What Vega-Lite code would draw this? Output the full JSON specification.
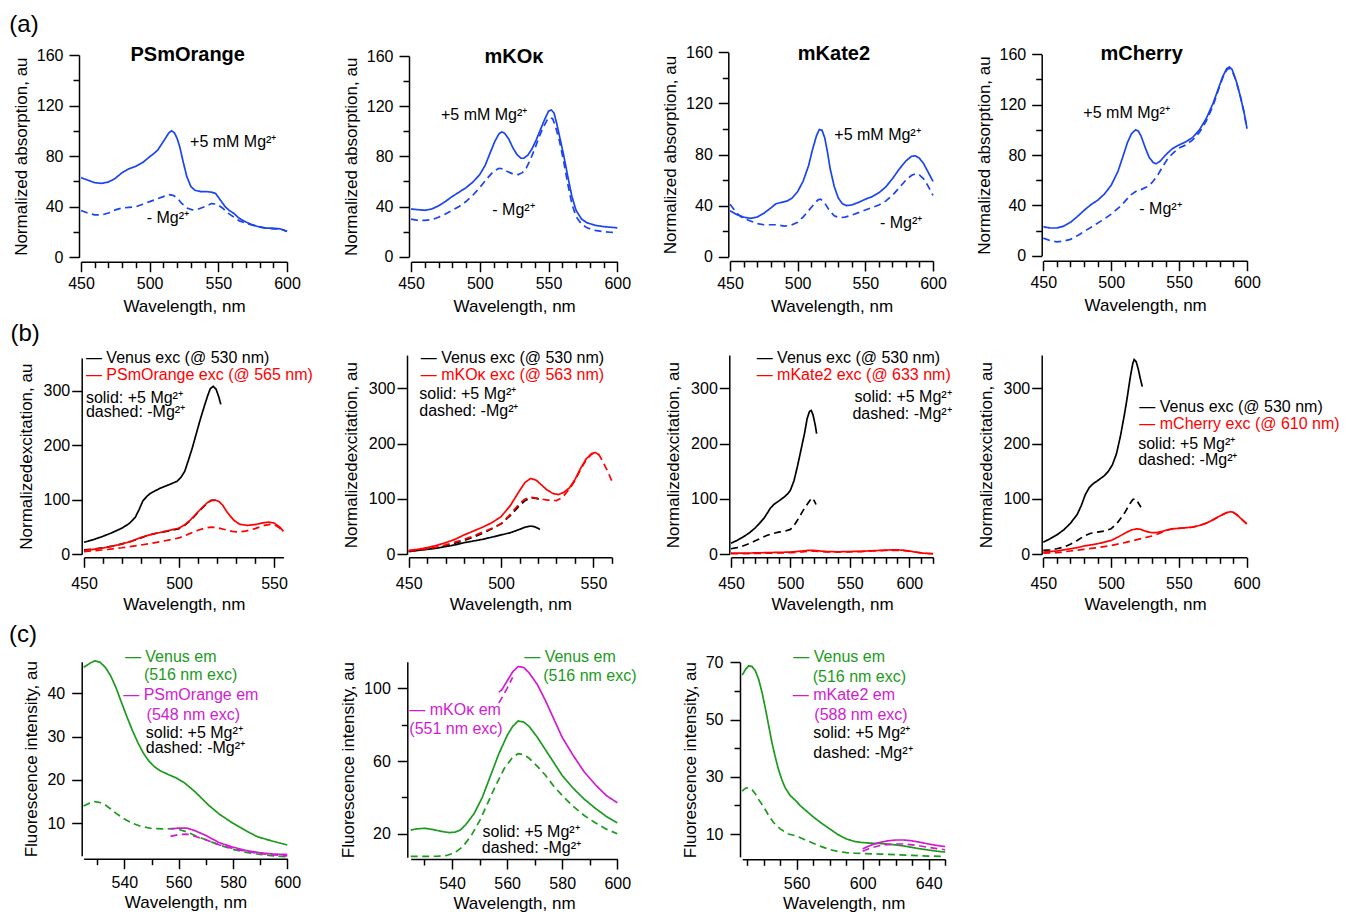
{
"$schema": "https://vega.github.io/schema/vega-lite/v6.json",
"padding": 0,
"spacing": 0,
"bounds": "flush",
"align": "all",
"columns": 4,
"config": {
 "view": {"stroke": null},
 "font": "Liberation Sans",
 "axis": {"grid": false, "domainColor": "#000", "tickColor": "#000", "labelColor": "#000", "titleColor": "#000", "labelFont": "Liberation Sans", "titleFont": "Liberation Sans", "labelFontSize": 16, "titleFontSize": 17, "titleFontWeight": "normal", "domainWidth": 1.5, "tickWidth": 1.5, "labelFlush": false, "labelOverlap": false}
},
"datasets": {
"notes": [
{"p":"A1","k":"t","s":"note","w":527.7,"v":160,"t":"PSmOrange"},
{"p":"A1","k":"g","s":"note","w":408.5,"v":184,"t":"(a)"},
{"p":"A1","k":"n","s":"note","w":529.4,"v":91.4,"t":"+5 mM Mg²⁺"},
{"p":"A1","k":"n","s":"note","w":497.8,"v":30.8,"t":"- Mg²⁺"},
{"p":"A2","k":"t","s":"note","w":524.9,"v":159.4,"t":"mKOκ"},
{"p":"A2","k":"n","s":"note","w":471.8,"v":113,"t":"+5 mM Mg²⁺"},
{"p":"A2","k":"n","s":"note","w":509.1,"v":37.2,"t":"- Mg²⁺"},
{"p":"A3","k":"t","s":"note","w":526.8,"v":158.4,"t":"mKate2"},
{"p":"A3","k":"n","s":"note","w":527.1,"v":95.3,"t":"+5 mM Mg²⁺"},
{"p":"A3","k":"n","s":"note","w":560.8,"v":26.6,"t":"- Mg²⁺"},
{"p":"A4","k":"t","s":"note","w":522.4,"v":160,"t":"mCherry"},
{"p":"A4","k":"n","s":"note","w":479.5,"v":113,"t":"+5 mM Mg²⁺"},
{"p":"A4","k":"n","s":"note","w":520.7,"v":36.8,"t":"- Mg²⁺"},
{"p":"B1","k":"g","s":"note","w":419,"v":404,"t":"(b)"},
{"p":"B1","k":"n","s":"Venus exc","w":451,"v":359.4,"t":"— Venus exc (@ 530 nm)"},
{"p":"B1","k":"n","s":"FP exc","w":451,"v":329,"t":"— PSmOrange exc (@ 565 nm)"},
{"p":"B1","k":"n","s":"note","w":451,"v":287,"t":"solid: +5 Mg²⁺"},
{"p":"B1","k":"n","s":"note","w":451,"v":260.5,"t":"dashed: -Mg²⁺"},
{"p":"B2","k":"n","s":"Venus exc","w":456.5,"v":354,"t":"— Venus exc (@ 530 nm)"},
{"p":"B2","k":"n","s":"FP exc","w":456.5,"v":324,"t":"— mKOκ exc (@ 563 nm)"},
{"p":"B2","k":"n","s":"note","w":455.7,"v":290,"t":"solid: +5 Mg²⁺"},
{"p":"B2","k":"n","s":"note","w":455.7,"v":259.5,"t":"dashed: -Mg²⁺"},
{"p":"B3","k":"n","s":"Venus exc","w":471.6,"v":354,"t":"— Venus exc (@ 530 nm)"},
{"p":"B3","k":"n","s":"FP exc","w":471.6,"v":324,"t":"— mKate2 exc (@ 633 nm)"},
{"p":"B3","k":"r","s":"note","w":635.6,"v":284,"t":"solid: +5 Mg²⁺"},
{"p":"B3","k":"r","s":"note","w":635.6,"v":253.6,"t":"dashed: -Mg²⁺"},
{"p":"B4","k":"n","s":"Venus exc","w":520.8,"v":265.7,"t":"— Venus exc (@ 530 nm)"},
{"p":"B4","k":"n","s":"FP exc","w":520.8,"v":235.5,"t":"— mCherry exc (@ 610 nm)"},
{"p":"B4","k":"n","s":"note","w":520,"v":199,"t":"solid: +5 Mg²⁺"},
{"p":"B4","k":"n","s":"note","w":520,"v":170,"t":"dashed: -Mg²⁺"},
{"p":"C1","k":"g","s":"note","w":502.7,"v":53.5,"t":"(c)"},
{"p":"C1","k":"n","s":"Venus em","w":540.2,"v":48.4,"t":"— Venus em"},
{"p":"C1","k":"n","s":"Venus em","w":547.2,"v":44.2,"t":"(516 nm exc)"},
{"p":"C1","k":"n","s":"FP em","w":539.6,"v":39.6,"t":"— PSmOrange em"},
{"p":"C1","k":"n","s":"FP em","w":548.2,"v":35,"t":"(548 nm exc)"},
{"p":"C1","k":"n","s":"note","w":547.9,"v":30.8,"t":"solid: +5 Mg²⁺"},
{"p":"C1","k":"n","s":"note","w":547.9,"v":27.3,"t":"dashed: -Mg²⁺"},
{"p":"C2","k":"n","s":"Venus em","w":566.2,"v":117.4,"t":"— Venus em"},
{"p":"C2","k":"n","s":"Venus em","w":573.1,"v":106.8,"t":"(516 nm exc)"},
{"p":"C2","k":"n","s":"FP em","w":524.5,"v":88,"t":"— mKOκ em"},
{"p":"C2","k":"n","s":"FP em","w":524.5,"v":77.4,"t":"(551 nm exc)"},
{"p":"C2","k":"n","s":"note","w":551.1,"v":21.1,"t":"solid: +5 Mg²⁺"},
{"p":"C2","k":"n","s":"note","w":550.8,"v":12,"t":"dashed: -Mg²⁺"},
{"p":"C3","k":"n","s":"Venus em","w":558,"v":72,"t":"— Venus em"},
{"p":"C3","k":"n","s":"Venus em","w":569.7,"v":65,"t":"(516 nm exc)"},
{"p":"C3","k":"n","s":"FP em","w":557.6,"v":58.6,"t":"— mKate2 em"},
{"p":"C3","k":"n","s":"FP em","w":570.7,"v":51.6,"t":"(588 nm exc)"},
{"p":"C3","k":"n","s":"note","w":570.1,"v":45.2,"t":"solid: +5 Mg²⁺"},
{"p":"C3","k":"n","s":"note","w":570.1,"v":38.2,"t":"dashed: -Mg²⁺"}
],
"A1": [
{"w":450,"v":63,"s":"abs","m":"+"},{"w":455,"v":61,"s":"abs","m":"+"},{"w":460,"v":59,"s":"abs","m":"+"},{"w":465,"v":58.5,"s":"abs","m":"+"},{"w":470,"v":59.5,"s":"abs","m":"+"},{"w":475,"v":62.5,"s":"abs","m":"+"},{"w":480,"v":67,"s":"abs","m":"+"},{"w":485,"v":70,"s":"abs","m":"+"},{"w":490,"v":72,"s":"abs","m":"+"},{"w":495,"v":75,"s":"abs","m":"+"},{"w":500,"v":79.5,"s":"abs","m":"+"},{"w":503,"v":82,"s":"abs","m":"+"},{"w":506,"v":85,"s":"abs","m":"+"},{"w":509,"v":90,"s":"abs","m":"+"},{"w":512,"v":95,"s":"abs","m":"+"},{"w":514,"v":98.5,"s":"abs","m":"+"},{"w":516,"v":100,"s":"abs","m":"+"},{"w":518,"v":98.5,"s":"abs","m":"+"},{"w":520,"v":94,"s":"abs","m":"+"},{"w":522,"v":87,"s":"abs","m":"+"},{"w":524.5,"v":75,"s":"abs","m":"+"},{"w":527,"v":64,"s":"abs","m":"+"},{"w":530,"v":56,"s":"abs","m":"+"},{"w":533,"v":53,"s":"abs","m":"+"},{"w":537,"v":52,"s":"abs","m":"+"},{"w":541,"v":52,"s":"abs","m":"+"},{"w":545,"v":51.5,"s":"abs","m":"+"},{"w":548,"v":50.5,"s":"abs","m":"+"},{"w":551,"v":46,"s":"abs","m":"+"},{"w":555,"v":40,"s":"abs","m":"+"},{"w":558,"v":37,"s":"abs","m":"+"},{"w":561,"v":35,"s":"abs","m":"+"},{"w":565,"v":31,"s":"abs","m":"+"},{"w":570,"v":28,"s":"abs","m":"+"},{"w":575,"v":25.5,"s":"abs","m":"+"},{"w":580,"v":24,"s":"abs","m":"+"},{"w":585,"v":23,"s":"abs","m":"+"},{"w":590,"v":23,"s":"abs","m":"+"},{"w":595,"v":22.5,"s":"abs","m":"+"},{"w":600,"v":20.5,"s":"abs","m":"+"},
{"w":450,"v":37,"s":"abs","m":"-"},{"w":455,"v":35,"s":"abs","m":"-"},{"w":460,"v":33.5,"s":"abs","m":"-"},{"w":465,"v":33.5,"s":"abs","m":"-"},{"w":470,"v":35,"s":"abs","m":"-"},{"w":475,"v":37.5,"s":"abs","m":"-"},{"w":480,"v":39,"s":"abs","m":"-"},{"w":485,"v":39.5,"s":"abs","m":"-"},{"w":490,"v":40,"s":"abs","m":"-"},{"w":495,"v":42,"s":"abs","m":"-"},{"w":500,"v":44,"s":"abs","m":"-"},{"w":505,"v":46,"s":"abs","m":"-"},{"w":510,"v":48,"s":"abs","m":"-"},{"w":514,"v":49.5,"s":"abs","m":"-"},{"w":517,"v":49,"s":"abs","m":"-"},{"w":520,"v":47,"s":"abs","m":"-"},{"w":523,"v":43,"s":"abs","m":"-"},{"w":527,"v":39,"s":"abs","m":"-"},{"w":531,"v":37.5,"s":"abs","m":"-"},{"w":535,"v":38,"s":"abs","m":"-"},{"w":540,"v":40,"s":"abs","m":"-"},{"w":545,"v":42.5,"s":"abs","m":"-"},{"w":549,"v":42,"s":"abs","m":"-"},{"w":553,"v":39,"s":"abs","m":"-"},{"w":557,"v":35,"s":"abs","m":"-"},{"w":561,"v":32,"s":"abs","m":"-"},{"w":565,"v":29,"s":"abs","m":"-"},{"w":570,"v":27,"s":"abs","m":"-"},{"w":575,"v":25.5,"s":"abs","m":"-"},{"w":580,"v":24,"s":"abs","m":"-"},{"w":585,"v":23,"s":"abs","m":"-"},{"w":590,"v":22.5,"s":"abs","m":"-"},{"w":595,"v":22.5,"s":"abs","m":"-"},{"w":600,"v":20.5,"s":"abs","m":"-"}
],
"A2": [
{"w":450,"v":38,"s":"abs","m":"+"},{"w":455,"v":37.5,"s":"abs","m":"+"},{"w":460,"v":37,"s":"abs","m":"+"},{"w":465,"v":38,"s":"abs","m":"+"},{"w":470,"v":40.5,"s":"abs","m":"+"},{"w":475,"v":44,"s":"abs","m":"+"},{"w":480,"v":48,"s":"abs","m":"+"},{"w":485,"v":51.5,"s":"abs","m":"+"},{"w":490,"v":55,"s":"abs","m":"+"},{"w":495,"v":59.5,"s":"abs","m":"+"},{"w":500,"v":65.5,"s":"abs","m":"+"},{"w":504,"v":73,"s":"abs","m":"+"},{"w":508,"v":84,"s":"abs","m":"+"},{"w":511,"v":92,"s":"abs","m":"+"},{"w":514,"v":98,"s":"abs","m":"+"},{"w":516,"v":99.5,"s":"abs","m":"+"},{"w":518,"v":98.5,"s":"abs","m":"+"},{"w":521,"v":94,"s":"abs","m":"+"},{"w":524,"v":87,"s":"abs","m":"+"},{"w":527,"v":81.5,"s":"abs","m":"+"},{"w":530,"v":78.5,"s":"abs","m":"+"},{"w":532,"v":78.5,"s":"abs","m":"+"},{"w":535,"v":81,"s":"abs","m":"+"},{"w":538,"v":86,"s":"abs","m":"+"},{"w":541,"v":93,"s":"abs","m":"+"},{"w":544,"v":101,"s":"abs","m":"+"},{"w":547,"v":109,"s":"abs","m":"+"},{"w":550,"v":116,"s":"abs","m":"+"},{"w":552,"v":117,"s":"abs","m":"+"},{"w":554,"v":114.5,"s":"abs","m":"+"},{"w":556,"v":106,"s":"abs","m":"+"},{"w":558,"v":96,"s":"abs","m":"+"},{"w":561,"v":81,"s":"abs","m":"+"},{"w":564,"v":64,"s":"abs","m":"+"},{"w":567,"v":48,"s":"abs","m":"+"},{"w":570,"v":37,"s":"abs","m":"+"},{"w":574,"v":30,"s":"abs","m":"+"},{"w":578,"v":27,"s":"abs","m":"+"},{"w":584,"v":25,"s":"abs","m":"+"},{"w":590,"v":24,"s":"abs","m":"+"},{"w":595,"v":23.5,"s":"abs","m":"+"},{"w":600,"v":23,"s":"abs","m":"+"},
{"w":450,"v":30,"s":"abs","m":"-"},{"w":455,"v":29,"s":"abs","m":"-"},{"w":460,"v":29,"s":"abs","m":"-"},{"w":465,"v":29.5,"s":"abs","m":"-"},{"w":470,"v":31.5,"s":"abs","m":"-"},{"w":475,"v":34,"s":"abs","m":"-"},{"w":480,"v":37,"s":"abs","m":"-"},{"w":485,"v":40,"s":"abs","m":"-"},{"w":490,"v":44,"s":"abs","m":"-"},{"w":495,"v":49,"s":"abs","m":"-"},{"w":500,"v":55,"s":"abs","m":"-"},{"w":505,"v":62,"s":"abs","m":"-"},{"w":510,"v":68,"s":"abs","m":"-"},{"w":514,"v":70.5,"s":"abs","m":"-"},{"w":517,"v":70,"s":"abs","m":"-"},{"w":520,"v":68,"s":"abs","m":"-"},{"w":524,"v":66,"s":"abs","m":"-"},{"w":528,"v":65.5,"s":"abs","m":"-"},{"w":531,"v":67,"s":"abs","m":"-"},{"w":534,"v":71,"s":"abs","m":"-"},{"w":537,"v":78,"s":"abs","m":"-"},{"w":540,"v":86,"s":"abs","m":"-"},{"w":543,"v":95,"s":"abs","m":"-"},{"w":546,"v":103,"s":"abs","m":"-"},{"w":549,"v":109,"s":"abs","m":"-"},{"w":551,"v":111,"s":"abs","m":"-"},{"w":553,"v":110,"s":"abs","m":"-"},{"w":555,"v":104,"s":"abs","m":"-"},{"w":558,"v":92,"s":"abs","m":"-"},{"w":561,"v":76,"s":"abs","m":"-"},{"w":564,"v":58,"s":"abs","m":"-"},{"w":567,"v":42,"s":"abs","m":"-"},{"w":570,"v":32,"s":"abs","m":"-"},{"w":574,"v":26,"s":"abs","m":"-"},{"w":578,"v":23,"s":"abs","m":"-"},{"w":584,"v":21,"s":"abs","m":"-"},{"w":590,"v":20,"s":"abs","m":"-"},{"w":595,"v":19.5,"s":"abs","m":"-"},{"w":600,"v":19,"s":"abs","m":"-"}
],
"A3": [
{"w":450,"v":36,"s":"abs","m":"+"},{"w":455,"v":33,"s":"abs","m":"+"},{"w":460,"v":31,"s":"abs","m":"+"},{"w":465,"v":30,"s":"abs","m":"+"},{"w":470,"v":31,"s":"abs","m":"+"},{"w":475,"v":34,"s":"abs","m":"+"},{"w":480,"v":38,"s":"abs","m":"+"},{"w":484,"v":41.5,"s":"abs","m":"+"},{"w":488,"v":42.5,"s":"abs","m":"+"},{"w":492,"v":43.5,"s":"abs","m":"+"},{"w":496,"v":46,"s":"abs","m":"+"},{"w":500,"v":51,"s":"abs","m":"+"},{"w":504,"v":59,"s":"abs","m":"+"},{"w":508,"v":71,"s":"abs","m":"+"},{"w":511,"v":84,"s":"abs","m":"+"},{"w":514,"v":95,"s":"abs","m":"+"},{"w":516,"v":99.5,"s":"abs","m":"+"},{"w":518,"v":99,"s":"abs","m":"+"},{"w":520,"v":93,"s":"abs","m":"+"},{"w":522,"v":82,"s":"abs","m":"+"},{"w":524,"v":69,"s":"abs","m":"+"},{"w":527,"v":55,"s":"abs","m":"+"},{"w":530,"v":46,"s":"abs","m":"+"},{"w":533,"v":41.5,"s":"abs","m":"+"},{"w":536,"v":40,"s":"abs","m":"+"},{"w":540,"v":40.5,"s":"abs","m":"+"},{"w":545,"v":42.5,"s":"abs","m":"+"},{"w":550,"v":45,"s":"abs","m":"+"},{"w":555,"v":47,"s":"abs","m":"+"},{"w":560,"v":50,"s":"abs","m":"+"},{"w":565,"v":54.5,"s":"abs","m":"+"},{"w":570,"v":61,"s":"abs","m":"+"},{"w":575,"v":68.5,"s":"abs","m":"+"},{"w":580,"v":75,"s":"abs","m":"+"},{"w":584,"v":78.5,"s":"abs","m":"+"},{"w":587,"v":79,"s":"abs","m":"+"},{"w":590,"v":77,"s":"abs","m":"+"},{"w":593,"v":73,"s":"abs","m":"+"},{"w":596,"v":67,"s":"abs","m":"+"},{"w":600,"v":59,"s":"abs","m":"+"},
{"w":450,"v":41,"s":"abs","m":"-"},{"w":453,"v":37,"s":"abs","m":"-"},{"w":456,"v":33,"s":"abs","m":"-"},{"w":460,"v":30,"s":"abs","m":"-"},{"w":465,"v":28,"s":"abs","m":"-"},{"w":470,"v":26,"s":"abs","m":"-"},{"w":475,"v":25,"s":"abs","m":"-"},{"w":480,"v":25,"s":"abs","m":"-"},{"w":485,"v":25,"s":"abs","m":"-"},{"w":490,"v":24,"s":"abs","m":"-"},{"w":495,"v":24.5,"s":"abs","m":"-"},{"w":500,"v":27,"s":"abs","m":"-"},{"w":504,"v":31,"s":"abs","m":"-"},{"w":508,"v":36,"s":"abs","m":"-"},{"w":512,"v":41,"s":"abs","m":"-"},{"w":515,"v":44.5,"s":"abs","m":"-"},{"w":517,"v":45,"s":"abs","m":"-"},{"w":520,"v":42,"s":"abs","m":"-"},{"w":523,"v":37,"s":"abs","m":"-"},{"w":527,"v":32,"s":"abs","m":"-"},{"w":531,"v":30.5,"s":"abs","m":"-"},{"w":535,"v":31,"s":"abs","m":"-"},{"w":540,"v":32.5,"s":"abs","m":"-"},{"w":545,"v":34.5,"s":"abs","m":"-"},{"w":550,"v":36.5,"s":"abs","m":"-"},{"w":555,"v":38.5,"s":"abs","m":"-"},{"w":560,"v":40.5,"s":"abs","m":"-"},{"w":565,"v":43.5,"s":"abs","m":"-"},{"w":570,"v":48,"s":"abs","m":"-"},{"w":575,"v":54,"s":"abs","m":"-"},{"w":580,"v":60,"s":"abs","m":"-"},{"w":584,"v":63.5,"s":"abs","m":"-"},{"w":587,"v":65,"s":"abs","m":"-"},{"w":590,"v":64,"s":"abs","m":"-"},{"w":593,"v":61,"s":"abs","m":"-"},{"w":596,"v":56,"s":"abs","m":"-"},{"w":600,"v":48,"s":"abs","m":"-"}
],
"A4": [
{"w":450,"v":23,"s":"abs","m":"+"},{"w":455,"v":22,"s":"abs","m":"+"},{"w":460,"v":22,"s":"abs","m":"+"},{"w":465,"v":23.5,"s":"abs","m":"+"},{"w":470,"v":26.5,"s":"abs","m":"+"},{"w":475,"v":31,"s":"abs","m":"+"},{"w":480,"v":36,"s":"abs","m":"+"},{"w":485,"v":40.5,"s":"abs","m":"+"},{"w":490,"v":44,"s":"abs","m":"+"},{"w":495,"v":49,"s":"abs","m":"+"},{"w":500,"v":56,"s":"abs","m":"+"},{"w":505,"v":67,"s":"abs","m":"+"},{"w":509,"v":80,"s":"abs","m":"+"},{"w":512,"v":90,"s":"abs","m":"+"},{"w":515,"v":97,"s":"abs","m":"+"},{"w":518,"v":100,"s":"abs","m":"+"},{"w":520,"v":99,"s":"abs","m":"+"},{"w":522,"v":95,"s":"abs","m":"+"},{"w":525,"v":86,"s":"abs","m":"+"},{"w":528,"v":78,"s":"abs","m":"+"},{"w":531,"v":74,"s":"abs","m":"+"},{"w":533,"v":73,"s":"abs","m":"+"},{"w":536,"v":75,"s":"abs","m":"+"},{"w":540,"v":80,"s":"abs","m":"+"},{"w":545,"v":85,"s":"abs","m":"+"},{"w":550,"v":88,"s":"abs","m":"+"},{"w":555,"v":90.5,"s":"abs","m":"+"},{"w":560,"v":94,"s":"abs","m":"+"},{"w":565,"v":100,"s":"abs","m":"+"},{"w":570,"v":109,"s":"abs","m":"+"},{"w":575,"v":121,"s":"abs","m":"+"},{"w":579,"v":133,"s":"abs","m":"+"},{"w":582,"v":142,"s":"abs","m":"+"},{"w":585,"v":148.5,"s":"abs","m":"+"},{"w":587,"v":150,"s":"abs","m":"+"},{"w":589,"v":148,"s":"abs","m":"+"},{"w":592,"v":139,"s":"abs","m":"+"},{"w":595,"v":127,"s":"abs","m":"+"},{"w":598,"v":113,"s":"abs","m":"+"},{"w":600,"v":101,"s":"abs","m":"+"},
{"w":450,"v":14,"s":"abs","m":"-"},{"w":455,"v":12,"s":"abs","m":"-"},{"w":460,"v":11,"s":"abs","m":"-"},{"w":465,"v":11.5,"s":"abs","m":"-"},{"w":470,"v":13,"s":"abs","m":"-"},{"w":476,"v":16.5,"s":"abs","m":"-"},{"w":482,"v":20.5,"s":"abs","m":"-"},{"w":488,"v":24.5,"s":"abs","m":"-"},{"w":494,"v":28.5,"s":"abs","m":"-"},{"w":500,"v":33,"s":"abs","m":"-"},{"w":506,"v":38.5,"s":"abs","m":"-"},{"w":510,"v":43,"s":"abs","m":"-"},{"w":514,"v":48,"s":"abs","m":"-"},{"w":518,"v":51,"s":"abs","m":"-"},{"w":522,"v":52.5,"s":"abs","m":"-"},{"w":526,"v":54.5,"s":"abs","m":"-"},{"w":530,"v":58,"s":"abs","m":"-"},{"w":534,"v":63.5,"s":"abs","m":"-"},{"w":538,"v":71,"s":"abs","m":"-"},{"w":541,"v":76,"s":"abs","m":"-"},{"w":545,"v":81,"s":"abs","m":"-"},{"w":550,"v":85.5,"s":"abs","m":"-"},{"w":555,"v":88,"s":"abs","m":"-"},{"w":560,"v":92,"s":"abs","m":"-"},{"w":565,"v":98,"s":"abs","m":"-"},{"w":570,"v":107,"s":"abs","m":"-"},{"w":575,"v":119,"s":"abs","m":"-"},{"w":579,"v":132,"s":"abs","m":"-"},{"w":582,"v":141,"s":"abs","m":"-"},{"w":585,"v":147.5,"s":"abs","m":"-"},{"w":587,"v":149,"s":"abs","m":"-"},{"w":589,"v":147,"s":"abs","m":"-"},{"w":592,"v":139,"s":"abs","m":"-"},{"w":595,"v":127,"s":"abs","m":"-"},{"w":598,"v":113,"s":"abs","m":"-"},{"w":600,"v":101,"s":"abs","m":"-"}
],
"B1": [
{"w":450,"v":22,"s":"Venus exc","m":"+"},{"w":455,"v":27,"s":"Venus exc","m":"+"},{"w":460,"v":33,"s":"Venus exc","m":"+"},{"w":465,"v":40,"s":"Venus exc","m":"+"},{"w":470,"v":48,"s":"Venus exc","m":"+"},{"w":474,"v":57,"s":"Venus exc","m":"+"},{"w":477,"v":68,"s":"Venus exc","m":"+"},{"w":479,"v":82,"s":"Venus exc","m":"+"},{"w":481,"v":98,"s":"Venus exc","m":"+"},{"w":483,"v":106,"s":"Venus exc","m":"+"},{"w":485,"v":112,"s":"Venus exc","m":"+"},{"w":490,"v":121,"s":"Venus exc","m":"+"},{"w":495,"v":128,"s":"Venus exc","m":"+"},{"w":499,"v":134,"s":"Venus exc","m":"+"},{"w":501,"v":141,"s":"Venus exc","m":"+"},{"w":503,"v":152,"s":"Venus exc","m":"+"},{"w":505,"v":173,"s":"Venus exc","m":"+"},{"w":507,"v":195,"s":"Venus exc","m":"+"},{"w":509,"v":220,"s":"Venus exc","m":"+"},{"w":511,"v":245,"s":"Venus exc","m":"+"},{"w":513,"v":268,"s":"Venus exc","m":"+"},{"w":515,"v":290,"s":"Venus exc","m":"+"},{"w":516.5,"v":304,"s":"Venus exc","m":"+"},{"w":518,"v":308,"s":"Venus exc","m":"+"},{"w":519.5,"v":303,"s":"Venus exc","m":"+"},{"w":521,"v":288,"s":"Venus exc","m":"+"},{"w":522,"v":275,"s":"Venus exc","m":"+"},
{"w":450,"v":8,"s":"Venus exc","m":"-"},{"w":455,"v":9.5,"s":"Venus exc","m":"-"},{"w":460,"v":12,"s":"Venus exc","m":"-"},{"w":465,"v":15,"s":"Venus exc","m":"-"},{"w":470,"v":19,"s":"Venus exc","m":"-"},{"w":475,"v":24,"s":"Venus exc","m":"-"},{"w":480,"v":30,"s":"Venus exc","m":"-"},{"w":483,"v":34,"s":"Venus exc","m":"-"},{"w":486,"v":37,"s":"Venus exc","m":"-"},{"w":490,"v":40,"s":"Venus exc","m":"-"},{"w":495,"v":43,"s":"Venus exc","m":"-"},{"w":500,"v":47,"s":"Venus exc","m":"-"},{"w":503,"v":53,"s":"Venus exc","m":"-"},{"w":506,"v":62,"s":"Venus exc","m":"-"},{"w":509,"v":73,"s":"Venus exc","m":"-"},{"w":512,"v":84,"s":"Venus exc","m":"-"},{"w":515,"v":94,"s":"Venus exc","m":"-"},{"w":517,"v":99,"s":"Venus exc","m":"-"},{"w":519,"v":99,"s":"Venus exc","m":"-"},{"w":521,"v":95,"s":"Venus exc","m":"-"},
{"w":450,"v":7,"s":"FP exc","m":"+"},{"w":455,"v":9,"s":"FP exc","m":"+"},{"w":460,"v":11.5,"s":"FP exc","m":"+"},{"w":465,"v":15,"s":"FP exc","m":"+"},{"w":470,"v":19,"s":"FP exc","m":"+"},{"w":475,"v":24,"s":"FP exc","m":"+"},{"w":480,"v":31,"s":"FP exc","m":"+"},{"w":485,"v":36,"s":"FP exc","m":"+"},{"w":490,"v":40,"s":"FP exc","m":"+"},{"w":495,"v":44,"s":"FP exc","m":"+"},{"w":500,"v":48,"s":"FP exc","m":"+"},{"w":503,"v":54,"s":"FP exc","m":"+"},{"w":506,"v":63,"s":"FP exc","m":"+"},{"w":509,"v":74,"s":"FP exc","m":"+"},{"w":512,"v":85,"s":"FP exc","m":"+"},{"w":515,"v":95,"s":"FP exc","m":"+"},{"w":517,"v":99,"s":"FP exc","m":"+"},{"w":519,"v":99.5,"s":"FP exc","m":"+"},{"w":521,"v":97,"s":"FP exc","m":"+"},{"w":523,"v":90,"s":"FP exc","m":"+"},{"w":525,"v":79,"s":"FP exc","m":"+"},{"w":527,"v":70,"s":"FP exc","m":"+"},{"w":529,"v":62,"s":"FP exc","m":"+"},{"w":532,"v":55,"s":"FP exc","m":"+"},{"w":536,"v":53,"s":"FP exc","m":"+"},{"w":540,"v":54.5,"s":"FP exc","m":"+"},{"w":544,"v":57.5,"s":"FP exc","m":"+"},{"w":547,"v":59,"s":"FP exc","m":"+"},{"w":550,"v":57.5,"s":"FP exc","m":"+"},{"w":553,"v":50,"s":"FP exc","m":"+"},{"w":555,"v":42,"s":"FP exc","m":"+"},
{"w":450,"v":5,"s":"FP exc","m":"-"},{"w":455,"v":6.5,"s":"FP exc","m":"-"},{"w":460,"v":8,"s":"FP exc","m":"-"},{"w":465,"v":10,"s":"FP exc","m":"-"},{"w":470,"v":12,"s":"FP exc","m":"-"},{"w":475,"v":14.5,"s":"FP exc","m":"-"},{"w":480,"v":17,"s":"FP exc","m":"-"},{"w":485,"v":20,"s":"FP exc","m":"-"},{"w":490,"v":23,"s":"FP exc","m":"-"},{"w":495,"v":26.5,"s":"FP exc","m":"-"},{"w":500,"v":30,"s":"FP exc","m":"-"},{"w":505,"v":37,"s":"FP exc","m":"-"},{"w":510,"v":44,"s":"FP exc","m":"-"},{"w":514,"v":48.5,"s":"FP exc","m":"-"},{"w":517,"v":50,"s":"FP exc","m":"-"},{"w":520,"v":49,"s":"FP exc","m":"-"},{"w":524,"v":45.5,"s":"FP exc","m":"-"},{"w":528,"v":42,"s":"FP exc","m":"-"},{"w":531,"v":41,"s":"FP exc","m":"-"},{"w":535,"v":42.5,"s":"FP exc","m":"-"},{"w":540,"v":47,"s":"FP exc","m":"-"},{"w":545,"v":53,"s":"FP exc","m":"-"},{"w":548,"v":55,"s":"FP exc","m":"-"},{"w":550,"v":54.5,"s":"FP exc","m":"-"},{"w":553,"v":48,"s":"FP exc","m":"-"},{"w":555,"v":41,"s":"FP exc","m":"-"}
],
"B2": [
{"w":450,"v":5,"s":"Venus exc","m":"+"},{"w":455,"v":7,"s":"Venus exc","m":"+"},{"w":460,"v":9,"s":"Venus exc","m":"+"},{"w":465,"v":11,"s":"Venus exc","m":"+"},{"w":470,"v":14,"s":"Venus exc","m":"+"},{"w":475,"v":17,"s":"Venus exc","m":"+"},{"w":480,"v":21,"s":"Venus exc","m":"+"},{"w":485,"v":24,"s":"Venus exc","m":"+"},{"w":490,"v":27,"s":"Venus exc","m":"+"},{"w":495,"v":31,"s":"Venus exc","m":"+"},{"w":500,"v":35,"s":"Venus exc","m":"+"},{"w":505,"v":39,"s":"Venus exc","m":"+"},{"w":510,"v":45,"s":"Venus exc","m":"+"},{"w":513,"v":49,"s":"Venus exc","m":"+"},{"w":516,"v":51,"s":"Venus exc","m":"+"},{"w":518,"v":50,"s":"Venus exc","m":"+"},{"w":520,"v":47,"s":"Venus exc","m":"+"},{"w":521,"v":45,"s":"Venus exc","m":"+"},
{"w":450,"v":6,"s":"Venus exc","m":"-"},{"w":455,"v":7.5,"s":"Venus exc","m":"-"},{"w":460,"v":9.5,"s":"Venus exc","m":"-"},{"w":465,"v":12,"s":"Venus exc","m":"-"},{"w":470,"v":15.5,"s":"Venus exc","m":"-"},{"w":475,"v":20,"s":"Venus exc","m":"-"},{"w":480,"v":25,"s":"Venus exc","m":"-"},{"w":485,"v":31,"s":"Venus exc","m":"-"},{"w":490,"v":38,"s":"Venus exc","m":"-"},{"w":495,"v":46,"s":"Venus exc","m":"-"},{"w":500,"v":55,"s":"Venus exc","m":"-"},{"w":505,"v":70,"s":"Venus exc","m":"-"},{"w":510,"v":88,"s":"Venus exc","m":"-"},{"w":513,"v":97,"s":"Venus exc","m":"-"},{"w":516,"v":102,"s":"Venus exc","m":"-"},{"w":519,"v":101,"s":"Venus exc","m":"-"},{"w":521,"v":99,"s":"Venus exc","m":"-"},
{"w":450,"v":7,"s":"FP exc","m":"+"},{"w":455,"v":9,"s":"FP exc","m":"+"},{"w":460,"v":12,"s":"FP exc","m":"+"},{"w":465,"v":16,"s":"FP exc","m":"+"},{"w":470,"v":21,"s":"FP exc","m":"+"},{"w":475,"v":27,"s":"FP exc","m":"+"},{"w":480,"v":35,"s":"FP exc","m":"+"},{"w":485,"v":42,"s":"FP exc","m":"+"},{"w":490,"v":49,"s":"FP exc","m":"+"},{"w":495,"v":57,"s":"FP exc","m":"+"},{"w":500,"v":68,"s":"FP exc","m":"+"},{"w":505,"v":88,"s":"FP exc","m":"+"},{"w":510,"v":115,"s":"FP exc","m":"+"},{"w":513,"v":130,"s":"FP exc","m":"+"},{"w":516,"v":137,"s":"FP exc","m":"+"},{"w":519,"v":134,"s":"FP exc","m":"+"},{"w":522,"v":125,"s":"FP exc","m":"+"},{"w":525,"v":116,"s":"FP exc","m":"+"},{"w":528,"v":110,"s":"FP exc","m":"+"},{"w":531,"v":108,"s":"FP exc","m":"+"},{"w":534,"v":112,"s":"FP exc","m":"+"},{"w":537,"v":120,"s":"FP exc","m":"+"},{"w":540,"v":135,"s":"FP exc","m":"+"},{"w":543,"v":155,"s":"FP exc","m":"+"},{"w":546,"v":172,"s":"FP exc","m":"+"},{"w":549,"v":182,"s":"FP exc","m":"+"},{"w":551,"v":184,"s":"FP exc","m":"+"},{"w":553,"v":180,"s":"FP exc","m":"+"},
{"w":450,"v":6,"s":"FP exc","m":"-"},{"w":455,"v":7.5,"s":"FP exc","m":"-"},{"w":460,"v":10,"s":"FP exc","m":"-"},{"w":465,"v":13,"s":"FP exc","m":"-"},{"w":470,"v":17,"s":"FP exc","m":"-"},{"w":475,"v":22,"s":"FP exc","m":"-"},{"w":480,"v":27,"s":"FP exc","m":"-"},{"w":485,"v":33,"s":"FP exc","m":"-"},{"w":490,"v":40,"s":"FP exc","m":"-"},{"w":495,"v":47,"s":"FP exc","m":"-"},{"w":500,"v":55,"s":"FP exc","m":"-"},{"w":505,"v":72,"s":"FP exc","m":"-"},{"w":510,"v":92,"s":"FP exc","m":"-"},{"w":513,"v":100,"s":"FP exc","m":"-"},{"w":516,"v":103,"s":"FP exc","m":"-"},{"w":520,"v":101,"s":"FP exc","m":"-"},{"w":525,"v":98,"s":"FP exc","m":"-"},{"w":530,"v":97,"s":"FP exc","m":"-"},{"w":533,"v":102,"s":"FP exc","m":"-"},{"w":537,"v":118,"s":"FP exc","m":"-"},{"w":540,"v":133,"s":"FP exc","m":"-"},{"w":543,"v":153,"s":"FP exc","m":"-"},{"w":546,"v":170,"s":"FP exc","m":"-"},{"w":549,"v":181,"s":"FP exc","m":"-"},{"w":551,"v":184,"s":"FP exc","m":"-"},{"w":553,"v":180,"s":"FP exc","m":"-"},{"w":555,"v":168,"s":"FP exc","m":"-"},{"w":558,"v":148,"s":"FP exc","m":"-"},{"w":560,"v":132,"s":"FP exc","m":"-"}
],
"B3": [
{"w":450,"v":20,"s":"Venus exc","m":"+"},{"w":455,"v":25,"s":"Venus exc","m":"+"},{"w":460,"v":31,"s":"Venus exc","m":"+"},{"w":465,"v":38,"s":"Venus exc","m":"+"},{"w":470,"v":47,"s":"Venus exc","m":"+"},{"w":474,"v":56,"s":"Venus exc","m":"+"},{"w":478,"v":66,"s":"Venus exc","m":"+"},{"w":481,"v":76,"s":"Venus exc","m":"+"},{"w":483,"v":83,"s":"Venus exc","m":"+"},{"w":486,"v":90,"s":"Venus exc","m":"+"},{"w":490,"v":96,"s":"Venus exc","m":"+"},{"w":495,"v":104,"s":"Venus exc","m":"+"},{"w":498,"v":110,"s":"Venus exc","m":"+"},{"w":500,"v":116,"s":"Venus exc","m":"+"},{"w":503,"v":133,"s":"Venus exc","m":"+"},{"w":506,"v":160,"s":"Venus exc","m":"+"},{"w":509,"v":190,"s":"Venus exc","m":"+"},{"w":512,"v":220,"s":"Venus exc","m":"+"},{"w":514,"v":245,"s":"Venus exc","m":"+"},{"w":516,"v":258,"s":"Venus exc","m":"+"},{"w":517.5,"v":260,"s":"Venus exc","m":"+"},{"w":519,"v":252,"s":"Venus exc","m":"+"},{"w":521,"v":232,"s":"Venus exc","m":"+"},{"w":522,"v":218,"s":"Venus exc","m":"+"},
{"w":450,"v":10,"s":"Venus exc","m":"-"},{"w":455,"v":12,"s":"Venus exc","m":"-"},{"w":460,"v":15,"s":"Venus exc","m":"-"},{"w":465,"v":19,"s":"Venus exc","m":"-"},{"w":470,"v":24,"s":"Venus exc","m":"-"},{"w":475,"v":29,"s":"Venus exc","m":"-"},{"w":480,"v":34,"s":"Venus exc","m":"-"},{"w":485,"v":37.5,"s":"Venus exc","m":"-"},{"w":490,"v":40,"s":"Venus exc","m":"-"},{"w":495,"v":41.5,"s":"Venus exc","m":"-"},{"w":500,"v":45,"s":"Venus exc","m":"-"},{"w":503,"v":52,"s":"Venus exc","m":"-"},{"w":506,"v":62,"s":"Venus exc","m":"-"},{"w":509,"v":73,"s":"Venus exc","m":"-"},{"w":512,"v":84,"s":"Venus exc","m":"-"},{"w":515,"v":93,"s":"Venus exc","m":"-"},{"w":518,"v":102,"s":"Venus exc","m":"-"},{"w":520,"v":97,"s":"Venus exc","m":"-"},{"w":521.5,"v":90,"s":"Venus exc","m":"-"},
{"w":450,"v":2,"s":"FP exc","m":"+"},{"w":460,"v":2,"s":"FP exc","m":"+"},{"w":470,"v":2.5,"s":"FP exc","m":"+"},{"w":480,"v":3,"s":"FP exc","m":"+"},{"w":490,"v":3.5,"s":"FP exc","m":"+"},{"w":500,"v":4,"s":"FP exc","m":"+"},{"w":505,"v":5,"s":"FP exc","m":"+"},{"w":510,"v":6,"s":"FP exc","m":"+"},{"w":515,"v":7,"s":"FP exc","m":"+"},{"w":520,"v":7,"s":"FP exc","m":"+"},{"w":525,"v":6,"s":"FP exc","m":"+"},{"w":530,"v":5,"s":"FP exc","m":"+"},{"w":540,"v":4.5,"s":"FP exc","m":"+"},{"w":550,"v":5,"s":"FP exc","m":"+"},{"w":560,"v":5.5,"s":"FP exc","m":"+"},{"w":570,"v":6.5,"s":"FP exc","m":"+"},{"w":580,"v":7.5,"s":"FP exc","m":"+"},{"w":585,"v":8,"s":"FP exc","m":"+"},{"w":590,"v":8,"s":"FP exc","m":"+"},{"w":595,"v":7.5,"s":"FP exc","m":"+"},{"w":600,"v":6,"s":"FP exc","m":"+"},{"w":605,"v":4,"s":"FP exc","m":"+"},{"w":610,"v":2.5,"s":"FP exc","m":"+"},{"w":615,"v":1.5,"s":"FP exc","m":"+"},{"w":620,"v":1,"s":"FP exc","m":"+"},
{"w":450,"v":1,"s":"FP exc","m":"-"},{"w":460,"v":1,"s":"FP exc","m":"-"},{"w":470,"v":1.5,"s":"FP exc","m":"-"},{"w":480,"v":2,"s":"FP exc","m":"-"},{"w":490,"v":2.5,"s":"FP exc","m":"-"},{"w":500,"v":3,"s":"FP exc","m":"-"},{"w":510,"v":4.5,"s":"FP exc","m":"-"},{"w":515,"v":5.5,"s":"FP exc","m":"-"},{"w":520,"v":5.5,"s":"FP exc","m":"-"},{"w":530,"v":4.5,"s":"FP exc","m":"-"},{"w":540,"v":4,"s":"FP exc","m":"-"},{"w":550,"v":4.5,"s":"FP exc","m":"-"},{"w":560,"v":5,"s":"FP exc","m":"-"},{"w":570,"v":6,"s":"FP exc","m":"-"},{"w":580,"v":7,"s":"FP exc","m":"-"},{"w":590,"v":7.5,"s":"FP exc","m":"-"},{"w":600,"v":5.5,"s":"FP exc","m":"-"},{"w":610,"v":2.5,"s":"FP exc","m":"-"},{"w":620,"v":1,"s":"FP exc","m":"-"}
],
"B4": [
{"w":450,"v":22,"s":"Venus exc","m":"+"},{"w":455,"v":28,"s":"Venus exc","m":"+"},{"w":460,"v":35,"s":"Venus exc","m":"+"},{"w":465,"v":44,"s":"Venus exc","m":"+"},{"w":470,"v":56,"s":"Venus exc","m":"+"},{"w":475,"v":72,"s":"Venus exc","m":"+"},{"w":478,"v":88,"s":"Venus exc","m":"+"},{"w":481,"v":108,"s":"Venus exc","m":"+"},{"w":484,"v":121,"s":"Venus exc","m":"+"},{"w":487,"v":128,"s":"Venus exc","m":"+"},{"w":490,"v":133,"s":"Venus exc","m":"+"},{"w":495,"v":142,"s":"Venus exc","m":"+"},{"w":498,"v":150,"s":"Venus exc","m":"+"},{"w":501,"v":162,"s":"Venus exc","m":"+"},{"w":504,"v":182,"s":"Venus exc","m":"+"},{"w":507,"v":215,"s":"Venus exc","m":"+"},{"w":510,"v":255,"s":"Venus exc","m":"+"},{"w":512,"v":285,"s":"Venus exc","m":"+"},{"w":514,"v":318,"s":"Venus exc","m":"+"},{"w":516,"v":345,"s":"Venus exc","m":"+"},{"w":517,"v":352,"s":"Venus exc","m":"+"},{"w":518.5,"v":348,"s":"Venus exc","m":"+"},{"w":520,"v":335,"s":"Venus exc","m":"+"},{"w":521.5,"v":318,"s":"Venus exc","m":"+"},{"w":523,"v":303,"s":"Venus exc","m":"+"},
{"w":450,"v":7,"s":"Venus exc","m":"-"},{"w":455,"v":8,"s":"Venus exc","m":"-"},{"w":460,"v":10,"s":"Venus exc","m":"-"},{"w":465,"v":13,"s":"Venus exc","m":"-"},{"w":470,"v":18,"s":"Venus exc","m":"-"},{"w":475,"v":25,"s":"Venus exc","m":"-"},{"w":480,"v":33,"s":"Venus exc","m":"-"},{"w":485,"v":38,"s":"Venus exc","m":"-"},{"w":490,"v":40,"s":"Venus exc","m":"-"},{"w":495,"v":42,"s":"Venus exc","m":"-"},{"w":500,"v":46,"s":"Venus exc","m":"-"},{"w":505,"v":58,"s":"Venus exc","m":"-"},{"w":510,"v":75,"s":"Venus exc","m":"-"},{"w":514,"v":92,"s":"Venus exc","m":"-"},{"w":516,"v":99,"s":"Venus exc","m":"-"},{"w":518,"v":100,"s":"Venus exc","m":"-"},{"w":520,"v":93,"s":"Venus exc","m":"-"},{"w":522,"v":85,"s":"Venus exc","m":"-"},
{"w":450,"v":4,"s":"FP exc","m":"+"},{"w":455,"v":5,"s":"FP exc","m":"+"},{"w":460,"v":6,"s":"FP exc","m":"+"},{"w":465,"v":8,"s":"FP exc","m":"+"},{"w":470,"v":10,"s":"FP exc","m":"+"},{"w":475,"v":12,"s":"FP exc","m":"+"},{"w":480,"v":15,"s":"FP exc","m":"+"},{"w":485,"v":17,"s":"FP exc","m":"+"},{"w":490,"v":19,"s":"FP exc","m":"+"},{"w":495,"v":22,"s":"FP exc","m":"+"},{"w":500,"v":25,"s":"FP exc","m":"+"},{"w":505,"v":31,"s":"FP exc","m":"+"},{"w":510,"v":38,"s":"FP exc","m":"+"},{"w":515,"v":44,"s":"FP exc","m":"+"},{"w":519,"v":46,"s":"FP exc","m":"+"},{"w":522,"v":45,"s":"FP exc","m":"+"},{"w":525,"v":42,"s":"FP exc","m":"+"},{"w":530,"v":39,"s":"FP exc","m":"+"},{"w":533,"v":39,"s":"FP exc","m":"+"},{"w":537,"v":41,"s":"FP exc","m":"+"},{"w":540,"v":43,"s":"FP exc","m":"+"},{"w":545,"v":46,"s":"FP exc","m":"+"},{"w":550,"v":47,"s":"FP exc","m":"+"},{"w":555,"v":48,"s":"FP exc","m":"+"},{"w":560,"v":49,"s":"FP exc","m":"+"},{"w":565,"v":52,"s":"FP exc","m":"+"},{"w":570,"v":56,"s":"FP exc","m":"+"},{"w":575,"v":62,"s":"FP exc","m":"+"},{"w":580,"v":69,"s":"FP exc","m":"+"},{"w":585,"v":75,"s":"FP exc","m":"+"},{"w":588,"v":77,"s":"FP exc","m":"+"},{"w":590,"v":76,"s":"FP exc","m":"+"},{"w":593,"v":71,"s":"FP exc","m":"+"},{"w":596,"v":64,"s":"FP exc","m":"+"},{"w":600,"v":55,"s":"FP exc","m":"+"},
{"w":450,"v":2,"s":"FP exc","m":"-"},{"w":460,"v":3,"s":"FP exc","m":"-"},{"w":470,"v":6,"s":"FP exc","m":"-"},{"w":480,"v":9,"s":"FP exc","m":"-"},{"w":490,"v":12,"s":"FP exc","m":"-"},{"w":500,"v":16,"s":"FP exc","m":"-"},{"w":510,"v":21,"s":"FP exc","m":"-"},{"w":520,"v":27,"s":"FP exc","m":"-"},{"w":530,"v":33,"s":"FP exc","m":"-"},{"w":536,"v":38,"s":"FP exc","m":"-"},{"w":540,"v":43,"s":"FP exc","m":"-"},{"w":545,"v":46,"s":"FP exc","m":"-"},{"w":550,"v":47,"s":"FP exc","m":"-"},{"w":555,"v":48,"s":"FP exc","m":"-"},{"w":560,"v":49,"s":"FP exc","m":"-"},{"w":565,"v":52,"s":"FP exc","m":"-"},{"w":570,"v":56,"s":"FP exc","m":"-"},{"w":575,"v":62,"s":"FP exc","m":"-"},{"w":580,"v":69,"s":"FP exc","m":"-"},{"w":585,"v":75,"s":"FP exc","m":"-"},{"w":588,"v":77,"s":"FP exc","m":"-"},{"w":590,"v":76,"s":"FP exc","m":"-"},{"w":593,"v":71,"s":"FP exc","m":"-"},{"w":596,"v":64,"s":"FP exc","m":"-"},{"w":600,"v":55,"s":"FP exc","m":"-"}
],
"C1": [
{"w":525,"v":46,"s":"Venus em","m":"+"},{"w":527,"v":46.8,"s":"Venus em","m":"+"},{"w":529,"v":47.5,"s":"Venus em","m":"+"},{"w":531,"v":47.2,"s":"Venus em","m":"+"},{"w":533,"v":46,"s":"Venus em","m":"+"},{"w":535,"v":44,"s":"Venus em","m":"+"},{"w":537,"v":41.2,"s":"Venus em","m":"+"},{"w":539,"v":37.8,"s":"Venus em","m":"+"},{"w":541,"v":34.5,"s":"Venus em","m":"+"},{"w":543,"v":31.4,"s":"Venus em","m":"+"},{"w":545,"v":28.6,"s":"Venus em","m":"+"},{"w":547,"v":26.2,"s":"Venus em","m":"+"},{"w":549,"v":24.4,"s":"Venus em","m":"+"},{"w":551,"v":23.1,"s":"Venus em","m":"+"},{"w":553,"v":22.2,"s":"Venus em","m":"+"},{"w":556,"v":21.3,"s":"Venus em","m":"+"},{"w":559,"v":20.5,"s":"Venus em","m":"+"},{"w":562,"v":19.4,"s":"Venus em","m":"+"},{"w":566,"v":17.3,"s":"Venus em","m":"+"},{"w":571,"v":14.2,"s":"Venus em","m":"+"},{"w":575,"v":12.1,"s":"Venus em","m":"+"},{"w":580,"v":10,"s":"Venus em","m":"+"},{"w":585,"v":8.2,"s":"Venus em","m":"+"},{"w":589,"v":6.9,"s":"Venus em","m":"+"},{"w":595,"v":5.8,"s":"Venus em","m":"+"},{"w":600,"v":5,"s":"Venus em","m":"+"},
{"w":525,"v":14,"s":"Venus em","m":"-"},{"w":527,"v":14.6,"s":"Venus em","m":"-"},{"w":529,"v":15,"s":"Venus em","m":"-"},{"w":531,"v":14.8,"s":"Venus em","m":"-"},{"w":533,"v":14.2,"s":"Venus em","m":"-"},{"w":535,"v":13.3,"s":"Venus em","m":"-"},{"w":537,"v":12.3,"s":"Venus em","m":"-"},{"w":540,"v":11,"s":"Venus em","m":"-"},{"w":543,"v":10,"s":"Venus em","m":"-"},{"w":546,"v":9.3,"s":"Venus em","m":"-"},{"w":550,"v":8.8,"s":"Venus em","m":"-"},{"w":555,"v":8.7,"s":"Venus em","m":"-"},{"w":558,"v":8.8,"s":"Venus em","m":"-"},{"w":560,"v":8.6,"s":"Venus em","m":"-"},{"w":563,"v":8,"s":"Venus em","m":"-"},{"w":566,"v":7.2,"s":"Venus em","m":"-"},{"w":570,"v":6.2,"s":"Venus em","m":"-"},{"w":575,"v":5,"s":"Venus em","m":"-"},{"w":580,"v":4,"s":"Venus em","m":"-"},{"w":585,"v":3.3,"s":"Venus em","m":"-"},{"w":590,"v":2.8,"s":"Venus em","m":"-"},{"w":595,"v":2.5,"s":"Venus em","m":"-"},{"w":600,"v":2.3,"s":"Venus em","m":"-"},
{"w":557,"v":8.7,"s":"FP em","m":"+"},{"w":560,"v":8.9,"s":"FP em","m":"+"},{"w":563,"v":8.9,"s":"FP em","m":"+"},{"w":566,"v":8.3,"s":"FP em","m":"+"},{"w":570,"v":7.2,"s":"FP em","m":"+"},{"w":575,"v":5.5,"s":"FP em","m":"+"},{"w":580,"v":4.5,"s":"FP em","m":"+"},{"w":585,"v":3.7,"s":"FP em","m":"+"},{"w":590,"v":3.2,"s":"FP em","m":"+"},{"w":595,"v":2.9,"s":"FP em","m":"+"},{"w":600,"v":2.8,"s":"FP em","m":"+"},
{"w":557,"v":7,"s":"FP em","m":"-"},{"w":560,"v":7.4,"s":"FP em","m":"-"},{"w":563,"v":7.5,"s":"FP em","m":"-"},{"w":566,"v":7,"s":"FP em","m":"-"},{"w":570,"v":6.2,"s":"FP em","m":"-"},{"w":575,"v":5,"s":"FP em","m":"-"},{"w":580,"v":4.2,"s":"FP em","m":"-"},{"w":585,"v":3.5,"s":"FP em","m":"-"},{"w":590,"v":3,"s":"FP em","m":"-"},{"w":595,"v":2.7,"s":"FP em","m":"-"},{"w":600,"v":2.5,"s":"FP em","m":"-"}
],
"C2": [
{"w":525,"v":22,"s":"Venus em","m":"+"},{"w":527,"v":22.6,"s":"Venus em","m":"+"},{"w":530,"v":23,"s":"Venus em","m":"+"},{"w":533,"v":22.3,"s":"Venus em","m":"+"},{"w":536,"v":21.3,"s":"Venus em","m":"+"},{"w":539,"v":20.6,"s":"Venus em","m":"+"},{"w":541,"v":20.8,"s":"Venus em","m":"+"},{"w":543,"v":22,"s":"Venus em","m":"+"},{"w":545,"v":25,"s":"Venus em","m":"+"},{"w":548,"v":31,"s":"Venus em","m":"+"},{"w":551,"v":40,"s":"Venus em","m":"+"},{"w":554,"v":52,"s":"Venus em","m":"+"},{"w":557,"v":64,"s":"Venus em","m":"+"},{"w":560,"v":74,"s":"Venus em","m":"+"},{"w":562,"v":79,"s":"Venus em","m":"+"},{"w":564,"v":82,"s":"Venus em","m":"+"},{"w":566,"v":81.5,"s":"Venus em","m":"+"},{"w":568,"v":79,"s":"Venus em","m":"+"},{"w":571,"v":73,"s":"Venus em","m":"+"},{"w":574,"v":66,"s":"Venus em","m":"+"},{"w":577,"v":59,"s":"Venus em","m":"+"},{"w":580,"v":52,"s":"Venus em","m":"+"},{"w":584,"v":45,"s":"Venus em","m":"+"},{"w":588,"v":39,"s":"Venus em","m":"+"},{"w":592,"v":34,"s":"Venus em","m":"+"},{"w":596,"v":29.5,"s":"Venus em","m":"+"},{"w":600,"v":26,"s":"Venus em","m":"+"},
{"w":525,"v":7.5,"s":"Venus em","m":"-"},{"w":530,"v":7.5,"s":"Venus em","m":"-"},{"w":535,"v":7.6,"s":"Venus em","m":"-"},{"w":538,"v":8,"s":"Venus em","m":"-"},{"w":541,"v":9.5,"s":"Venus em","m":"-"},{"w":544,"v":13,"s":"Venus em","m":"-"},{"w":547,"v":19,"s":"Venus em","m":"-"},{"w":550,"v":27,"s":"Venus em","m":"-"},{"w":553,"v":37,"s":"Venus em","m":"-"},{"w":556,"v":47,"s":"Venus em","m":"-"},{"w":559,"v":56,"s":"Venus em","m":"-"},{"w":562,"v":62,"s":"Venus em","m":"-"},{"w":564,"v":64,"s":"Venus em","m":"-"},{"w":566,"v":63.5,"s":"Venus em","m":"-"},{"w":568,"v":61.5,"s":"Venus em","m":"-"},{"w":571,"v":57,"s":"Venus em","m":"-"},{"w":574,"v":52,"s":"Venus em","m":"-"},{"w":577,"v":46,"s":"Venus em","m":"-"},{"w":580,"v":41,"s":"Venus em","m":"-"},{"w":584,"v":35,"s":"Venus em","m":"-"},{"w":588,"v":30,"s":"Venus em","m":"-"},{"w":592,"v":26,"s":"Venus em","m":"-"},{"w":596,"v":22.5,"s":"Venus em","m":"-"},{"w":600,"v":20,"s":"Venus em","m":"-"},
{"w":557,"v":98,"s":"FP em","m":"+"},{"w":558,"v":99,"s":"FP em","m":"+"},{"w":560,"v":104,"s":"FP em","m":"+"},{"w":562,"v":109,"s":"FP em","m":"+"},{"w":564,"v":112,"s":"FP em","m":"+"},{"w":566,"v":111.5,"s":"FP em","m":"+"},{"w":568,"v":108.5,"s":"FP em","m":"+"},{"w":571,"v":102,"s":"FP em","m":"+"},{"w":574,"v":93,"s":"FP em","m":"+"},{"w":577,"v":83,"s":"FP em","m":"+"},{"w":580,"v":73,"s":"FP em","m":"+"},{"w":584,"v":63,"s":"FP em","m":"+"},{"w":588,"v":54,"s":"FP em","m":"+"},{"w":592,"v":47,"s":"FP em","m":"+"},{"w":596,"v":41,"s":"FP em","m":"+"},{"w":600,"v":37,"s":"FP em","m":"+"},
{"w":557,"v":92,"s":"FP em","m":"-"},{"w":558,"v":94.5,"s":"FP em","m":"-"},{"w":560,"v":100,"s":"FP em","m":"-"},{"w":562,"v":106,"s":"FP em","m":"-"}
],
"C3": [
{"w":527,"v":65.5,"s":"Venus em","m":"+"},{"w":529,"v":67.5,"s":"Venus em","m":"+"},{"w":531,"v":68.8,"s":"Venus em","m":"+"},{"w":533,"v":68.5,"s":"Venus em","m":"+"},{"w":535,"v":67,"s":"Venus em","m":"+"},{"w":537,"v":64,"s":"Venus em","m":"+"},{"w":539,"v":59.5,"s":"Venus em","m":"+"},{"w":541,"v":54,"s":"Venus em","m":"+"},{"w":543,"v":48,"s":"Venus em","m":"+"},{"w":545,"v":42,"s":"Venus em","m":"+"},{"w":547,"v":37,"s":"Venus em","m":"+"},{"w":549,"v":32.5,"s":"Venus em","m":"+"},{"w":551,"v":29,"s":"Venus em","m":"+"},{"w":553,"v":26.2,"s":"Venus em","m":"+"},{"w":556,"v":23.5,"s":"Venus em","m":"+"},{"w":560,"v":21.3,"s":"Venus em","m":"+"},{"w":562,"v":20,"s":"Venus em","m":"+"},{"w":565,"v":18.5,"s":"Venus em","m":"+"},{"w":570,"v":16,"s":"Venus em","m":"+"},{"w":575,"v":13.8,"s":"Venus em","m":"+"},{"w":580,"v":11.8,"s":"Venus em","m":"+"},{"w":585,"v":9.8,"s":"Venus em","m":"+"},{"w":590,"v":8.3,"s":"Venus em","m":"+"},{"w":595,"v":7.4,"s":"Venus em","m":"+"},{"w":600,"v":7,"s":"Venus em","m":"+"},{"w":605,"v":6.8,"s":"Venus em","m":"+"},{"w":610,"v":6.7,"s":"Venus em","m":"+"},{"w":615,"v":6.5,"s":"Venus em","m":"+"},{"w":620,"v":6.2,"s":"Venus em","m":"+"},{"w":625,"v":5.8,"s":"Venus em","m":"+"},{"w":630,"v":5.3,"s":"Venus em","m":"+"},{"w":635,"v":4.8,"s":"Venus em","m":"+"},{"w":640,"v":4.4,"s":"Venus em","m":"+"},{"w":645,"v":4,"s":"Venus em","m":"+"},{"w":650,"v":3.7,"s":"Venus em","m":"+"},
{"w":527,"v":25,"s":"Venus em","m":"-"},{"w":529,"v":26,"s":"Venus em","m":"-"},{"w":531,"v":26.2,"s":"Venus em","m":"-"},{"w":533,"v":25.5,"s":"Venus em","m":"-"},{"w":535,"v":24,"s":"Venus em","m":"-"},{"w":537,"v":22,"s":"Venus em","m":"-"},{"w":540,"v":19.5,"s":"Venus em","m":"-"},{"w":543,"v":16.5,"s":"Venus em","m":"-"},{"w":546,"v":14,"s":"Venus em","m":"-"},{"w":550,"v":11.8,"s":"Venus em","m":"-"},{"w":555,"v":10,"s":"Venus em","m":"-"},{"w":560,"v":9.3,"s":"Venus em","m":"-"},{"w":565,"v":8,"s":"Venus em","m":"-"},{"w":570,"v":6.8,"s":"Venus em","m":"-"},{"w":575,"v":5.6,"s":"Venus em","m":"-"},{"w":580,"v":4.6,"s":"Venus em","m":"-"},{"w":585,"v":3.9,"s":"Venus em","m":"-"},{"w":590,"v":3.5,"s":"Venus em","m":"-"},{"w":595,"v":3.3,"s":"Venus em","m":"-"},{"w":600,"v":3.2,"s":"Venus em","m":"-"},{"w":610,"v":3,"s":"Venus em","m":"-"},{"w":620,"v":2.8,"s":"Venus em","m":"-"},{"w":630,"v":2.5,"s":"Venus em","m":"-"},{"w":640,"v":2.3,"s":"Venus em","m":"-"},{"w":650,"v":2.1,"s":"Venus em","m":"-"},
{"w":600,"v":4.8,"s":"FP em","m":"+"},{"w":603,"v":5.6,"s":"FP em","m":"+"},{"w":606,"v":6.3,"s":"FP em","m":"+"},{"w":610,"v":7,"s":"FP em","m":"+"},{"w":615,"v":7.6,"s":"FP em","m":"+"},{"w":620,"v":7.9,"s":"FP em","m":"+"},{"w":625,"v":7.9,"s":"FP em","m":"+"},{"w":630,"v":7.6,"s":"FP em","m":"+"},{"w":635,"v":7.1,"s":"FP em","m":"+"},{"w":640,"v":6.5,"s":"FP em","m":"+"},{"w":645,"v":6,"s":"FP em","m":"+"},{"w":650,"v":5.6,"s":"FP em","m":"+"},
{"w":600,"v":4,"s":"FP em","m":"-"},{"w":603,"v":4.7,"s":"FP em","m":"-"},{"w":606,"v":5.3,"s":"FP em","m":"-"},{"w":610,"v":5.9,"s":"FP em","m":"-"},{"w":615,"v":6.3,"s":"FP em","m":"-"},{"w":620,"v":6.5,"s":"FP em","m":"-"},{"w":625,"v":6.5,"s":"FP em","m":"-"},{"w":630,"v":6.2,"s":"FP em","m":"-"},{"w":635,"v":5.8,"s":"FP em","m":"-"},{"w":640,"v":5.3,"s":"FP em","m":"-"},{"w":645,"v":4.9,"s":"FP em","m":"-"},{"w":650,"v":4.5,"s":"FP em","m":"-"}
]
},
"concat": [
{"width":330,"height":300,"resolve":{"axis":{"x":"independent","y":"independent"}},"layer":[
 {"data":{"name":"A1"},"mark":{"type":"line","strokeWidth":1.7},"encoding":{
  "x":{"field":"w","type":"quantitative","scale":{"domain":[450,600],"range":[81,287],"nice":false,"zero":false},"axis":{"orient":"bottom","title":"Wavelength, nm","values":[450,500,550,600],"tickSize":10,"labelPadding":4,"titlePadding":7,"offset":-38.3}},
  "y":{"field":"v","type":"quantitative","scale":{"domain":[0,160],"range":[257.3,55],"nice":false,"zero":false},"axis":{"orient":"left","title":"Normalized absorption, au","values":[0,40,80,120,160],"tickSize":10,"labelPadding":6,"titlePadding":6,"offset":-79}},
  "color":{"field":"s","type":"nominal","scale":{"domain":["abs","Venus exc","FP exc","Venus em","FP em","note"],"range":["#1a44f0","#000000","#ff0000","#1c9a1c","#d01cd0","#000000"]},"legend":null},
  "strokeDash":{"field":"m","type":"nominal","scale":{"domain":["+","-"],"range":[[1,0],[7,4.5]]},"legend":null}}},
 {"data":{"name":"A1"},"mark":{"type":"point","opacity":0},"encoding":{
  "x":{"field":"w","type":"quantitative","axis":{"orient":"bottom","title":null,"labels":false,"domain":false,"values":[460,470,480,490,510,520,530,540,560,570,580,590],"tickSize":6,"offset":-38.3}},
  "y":{"field":"v","type":"quantitative","axis":{"orient":"left","title":null,"labels":false,"domain":false,"values":[20,60,100,140],"tickSize":6,"offset":-79}}}},
 {"data":{"name":"notes"},"transform":[{"filter":"datum.p == 'A1' && datum.k == 'n'"}],"mark":{"type":"text","fontSize":16,"align":"left","baseline":"middle","font":"Liberation Sans"},"encoding":{"x":{"field":"w","type":"quantitative","axis":null},"y":{"field":"v","type":"quantitative","axis":null},"text":{"field":"t"},"color":{"field":"s","type":"nominal","scale":{"domain":["abs","Venus exc","FP exc","Venus em","FP em","note"],"range":["#1a44f0","#000000","#ff0000","#1c9a1c","#d01cd0","#000000"]},"legend":null}}},
 {"data":{"name":"notes"},"transform":[{"filter":"datum.p == 'A1' && datum.k == 't'"}],"mark":{"type":"text","fontSize":20,"fontWeight":"bold","align":"center","baseline":"middle","font":"Liberation Sans"},"encoding":{"x":{"field":"w","type":"quantitative","axis":null},"y":{"field":"v","type":"quantitative","axis":null},"text":{"field":"t"}}},
 {"data":{"name":"notes"},"transform":[{"filter":"datum.p == 'A1' && datum.k == 'g'"}],"mark":{"type":"text","fontSize":24,"align":"center","baseline":"middle","font":"Liberation Sans"},"encoding":{"x":{"field":"w","type":"quantitative","axis":null},"y":{"field":"v","type":"quantitative","axis":null},"text":{"field":"t"}}}
]},
{"width":330,"height":300,"resolve":{"axis":{"x":"independent","y":"independent"}},"layer":[
 {"data":{"name":"A2"},"mark":{"type":"line","strokeWidth":1.7},"encoding":{
  "x":{"field":"w","type":"quantitative","scale":{"domain":[450,600],"range":[81,287.3],"nice":false,"zero":false},"axis":{"orient":"bottom","title":"Wavelength, nm","values":[450,500,550,600],"tickSize":10,"labelPadding":4,"titlePadding":7,"offset":-38.3}},
  "y":{"field":"v","type":"quantitative","scale":{"domain":[0,160],"range":[256.7,56],"nice":false,"zero":false},"axis":{"orient":"left","title":"Normalized absorption, au","values":[0,40,80,120,160],"tickSize":10,"labelPadding":6,"titlePadding":6,"offset":-79}},
  "color":{"field":"s","type":"nominal","scale":{"domain":["abs","Venus exc","FP exc","Venus em","FP em","note"],"range":["#1a44f0","#000000","#ff0000","#1c9a1c","#d01cd0","#000000"]},"legend":null},
  "strokeDash":{"field":"m","type":"nominal","scale":{"domain":["+","-"],"range":[[1,0],[7,4.5]]},"legend":null}}},
 {"data":{"name":"A2"},"mark":{"type":"point","opacity":0},"encoding":{
  "x":{"field":"w","type":"quantitative","axis":{"orient":"bottom","title":null,"labels":false,"domain":false,"values":[460,470,480,490,510,520,530,540,560,570,580,590],"tickSize":6,"offset":-38.3}},
  "y":{"field":"v","type":"quantitative","axis":{"orient":"left","title":null,"labels":false,"domain":false,"values":[20,60,100,140],"tickSize":6,"offset":-79}}}},
 {"data":{"name":"notes"},"transform":[{"filter":"datum.p == 'A2' && datum.k == 'n'"}],"mark":{"type":"text","fontSize":16,"align":"left","baseline":"middle","font":"Liberation Sans"},"encoding":{"x":{"field":"w","type":"quantitative","axis":null},"y":{"field":"v","type":"quantitative","axis":null},"text":{"field":"t"},"color":{"field":"s","type":"nominal","scale":{"domain":["abs","Venus exc","FP exc","Venus em","FP em","note"],"range":["#1a44f0","#000000","#ff0000","#1c9a1c","#d01cd0","#000000"]},"legend":null}}},
 {"data":{"name":"notes"},"transform":[{"filter":"datum.p == 'A2' && datum.k == 't'"}],"mark":{"type":"text","fontSize":20,"fontWeight":"bold","align":"center","baseline":"middle","font":"Liberation Sans"},"encoding":{"x":{"field":"w","type":"quantitative","axis":null},"y":{"field":"v","type":"quantitative","axis":null},"text":{"field":"t"}}}
]},
{"width":330,"height":300,"resolve":{"axis":{"x":"independent","y":"independent"}},"layer":[
 {"data":{"name":"A3"},"mark":{"type":"line","strokeWidth":1.7},"encoding":{
  "x":{"field":"w","type":"quantitative","scale":{"domain":[450,600],"range":[70,273],"nice":false,"zero":false},"axis":{"orient":"bottom","title":"Wavelength, nm","values":[450,500,550,600],"tickSize":10,"labelPadding":4,"titlePadding":7,"offset":-39}},
  "y":{"field":"v","type":"quantitative","scale":{"domain":[0,160],"range":[256.7,52.3],"nice":false,"zero":false},"axis":{"orient":"left","title":"Normalized absorption, au","values":[0,40,80,120,160],"tickSize":10,"labelPadding":6,"titlePadding":6,"offset":-68.3}},
  "color":{"field":"s","type":"nominal","scale":{"domain":["abs","Venus exc","FP exc","Venus em","FP em","note"],"range":["#1a44f0","#000000","#ff0000","#1c9a1c","#d01cd0","#000000"]},"legend":null},
  "strokeDash":{"field":"m","type":"nominal","scale":{"domain":["+","-"],"range":[[1,0],[7,4.5]]},"legend":null}}},
 {"data":{"name":"A3"},"mark":{"type":"point","opacity":0},"encoding":{
  "x":{"field":"w","type":"quantitative","axis":{"orient":"bottom","title":null,"labels":false,"domain":false,"values":[460,470,480,490,510,520,530,540,560,570,580,590],"tickSize":6,"offset":-39}},
  "y":{"field":"v","type":"quantitative","axis":{"orient":"left","title":null,"labels":false,"domain":false,"values":[20,60,100,140],"tickSize":6,"offset":-68.3}}}},
 {"data":{"name":"notes"},"transform":[{"filter":"datum.p == 'A3' && datum.k == 'n'"}],"mark":{"type":"text","fontSize":16,"align":"left","baseline":"middle","font":"Liberation Sans"},"encoding":{"x":{"field":"w","type":"quantitative","axis":null},"y":{"field":"v","type":"quantitative","axis":null},"text":{"field":"t"},"color":{"field":"s","type":"nominal","scale":{"domain":["abs","Venus exc","FP exc","Venus em","FP em","note"],"range":["#1a44f0","#000000","#ff0000","#1c9a1c","#d01cd0","#000000"]},"legend":null}}},
 {"data":{"name":"notes"},"transform":[{"filter":"datum.p == 'A3' && datum.k == 't'"}],"mark":{"type":"text","fontSize":20,"fontWeight":"bold","align":"center","baseline":"middle","font":"Liberation Sans"},"encoding":{"x":{"field":"w","type":"quantitative","axis":null},"y":{"field":"v","type":"quantitative","axis":null},"text":{"field":"t"}}}
]},
{"width":330,"height":300,"resolve":{"axis":{"x":"independent","y":"independent"}},"layer":[
 {"data":{"name":"A4"},"mark":{"type":"line","strokeWidth":1.7},"encoding":{
  "x":{"field":"w","type":"quantitative","scale":{"domain":[450,600],"range":[53.3,257],"nice":false,"zero":false},"axis":{"orient":"bottom","title":"Wavelength, nm","values":[450,500,550,600],"tickSize":10,"labelPadding":4,"titlePadding":7,"offset":-39.3}},
  "y":{"field":"v","type":"quantitative","scale":{"domain":[0,160],"range":[255.7,54.3],"nice":false,"zero":false},"axis":{"orient":"left","title":"Normalized absorption, au","values":[0,40,80,120,160],"tickSize":10,"labelPadding":6,"titlePadding":6,"offset":-51.7}},
  "color":{"field":"s","type":"nominal","scale":{"domain":["abs","Venus exc","FP exc","Venus em","FP em","note"],"range":["#1a44f0","#000000","#ff0000","#1c9a1c","#d01cd0","#000000"]},"legend":null},
  "strokeDash":{"field":"m","type":"nominal","scale":{"domain":["+","-"],"range":[[1,0],[7,4.5]]},"legend":null}}},
 {"data":{"name":"A4"},"mark":{"type":"point","opacity":0},"encoding":{
  "x":{"field":"w","type":"quantitative","axis":{"orient":"bottom","title":null,"labels":false,"domain":false,"values":[460,470,480,490,510,520,530,540,560,570,580,590],"tickSize":6,"offset":-39.3}},
  "y":{"field":"v","type":"quantitative","axis":{"orient":"left","title":null,"labels":false,"domain":false,"values":[20,60,100,140],"tickSize":6,"offset":-51.7}}}},
 {"data":{"name":"notes"},"transform":[{"filter":"datum.p == 'A4' && datum.k == 'n'"}],"mark":{"type":"text","fontSize":16,"align":"left","baseline":"middle","font":"Liberation Sans"},"encoding":{"x":{"field":"w","type":"quantitative","axis":null},"y":{"field":"v","type":"quantitative","axis":null},"text":{"field":"t"},"color":{"field":"s","type":"nominal","scale":{"domain":["abs","Venus exc","FP exc","Venus em","FP em","note"],"range":["#1a44f0","#000000","#ff0000","#1c9a1c","#d01cd0","#000000"]},"legend":null}}},
 {"data":{"name":"notes"},"transform":[{"filter":"datum.p == 'A4' && datum.k == 't'"}],"mark":{"type":"text","fontSize":20,"fontWeight":"bold","align":"center","baseline":"middle","font":"Liberation Sans"},"encoding":{"x":{"field":"w","type":"quantitative","axis":null},"y":{"field":"v","type":"quantitative","axis":null},"text":{"field":"t"}}}
]},
{"width":330,"height":300,"resolve":{"axis":{"x":"independent","y":"independent"}},"layer":[
 {"data":{"name":"B1"},"mark":{"type":"line","strokeWidth":1.7},"encoding":{
  "x":{"field":"w","type":"quantitative","scale":{"domain":[450,555],"range":[84,283.5],"nice":false,"zero":false},"axis":{"orient":"bottom","title":"Wavelength, nm","values":[450,500,550],"tickSize":10,"labelPadding":8,"titlePadding":5,"offset":-42.7}},
  "y":{"field":"v","type":"quantitative","scale":{"domain":[0,360],"range":[254.3,58],"nice":false,"zero":false},"axis":{"orient":"left","title":"Normalizedexcitation, au","values":[0,100,200,300],"tickSize":10,"labelPadding":2,"titlePadding":8,"offset":-81.7}},
  "color":{"field":"s","type":"nominal","scale":{"domain":["abs","Venus exc","FP exc","Venus em","FP em","note"],"range":["#1a44f0","#000000","#ff0000","#1c9a1c","#d01cd0","#000000"]},"legend":null},
  "strokeDash":{"field":"m","type":"nominal","scale":{"domain":["+","-"],"range":[[1,0],[7,4.5]]},"legend":null}}},
 {"data":{"name":"B1"},"mark":{"type":"point","opacity":0},"encoding":{
  "x":{"field":"w","type":"quantitative","axis":{"orient":"bottom","title":null,"labels":false,"domain":false,"values":[460,470,480,490,510,520,530,540],"tickSize":6,"offset":-42.7}},
  "y":{"field":"v","type":"quantitative","axis":null}}},
 {"data":{"name":"notes"},"transform":[{"filter":"datum.p == 'B1' && datum.k == 'n'"}],"mark":{"type":"text","fontSize":16,"align":"left","baseline":"middle","font":"Liberation Sans"},"encoding":{"x":{"field":"w","type":"quantitative","axis":null},"y":{"field":"v","type":"quantitative","axis":null},"text":{"field":"t"},"color":{"field":"s","type":"nominal","scale":{"domain":["abs","Venus exc","FP exc","Venus em","FP em","note"],"range":["#1a44f0","#000000","#ff0000","#1c9a1c","#d01cd0","#000000"]},"legend":null}}},
 {"data":{"name":"notes"},"transform":[{"filter":"datum.p == 'B1' && datum.k == 'g'"}],"mark":{"type":"text","fontSize":24,"align":"center","baseline":"middle","font":"Liberation Sans"},"encoding":{"x":{"field":"w","type":"quantitative","axis":null},"y":{"field":"v","type":"quantitative","axis":null},"text":{"field":"t"}}}
]},
{"width":330,"height":300,"resolve":{"axis":{"x":"independent","y":"independent"}},"layer":[
 {"data":{"name":"B2"},"mark":{"type":"line","strokeWidth":1.7},"encoding":{
  "x":{"field":"w","type":"quantitative","scale":{"domain":[450,560],"range":[78.7,281.9],"nice":false,"zero":false},"axis":{"orient":"bottom","title":"Wavelength, nm","values":[450,500,550],"tickSize":10,"labelPadding":8,"titlePadding":5,"offset":-42.7}},
  "y":{"field":"v","type":"quantitative","scale":{"domain":[0,360],"range":[254.3,55.1],"nice":false,"zero":false},"axis":{"orient":"left","title":"Normalizedexcitation, au","values":[0,100,200,300],"tickSize":10,"labelPadding":2,"titlePadding":8,"offset":-77}},
  "color":{"field":"s","type":"nominal","scale":{"domain":["abs","Venus exc","FP exc","Venus em","FP em","note"],"range":["#1a44f0","#000000","#ff0000","#1c9a1c","#d01cd0","#000000"]},"legend":null},
  "strokeDash":{"field":"m","type":"nominal","scale":{"domain":["+","-"],"range":[[1,0],[7,4.5]]},"legend":null}}},
 {"data":{"name":"B2"},"mark":{"type":"point","opacity":0},"encoding":{
  "x":{"field":"w","type":"quantitative","axis":{"orient":"bottom","title":null,"labels":false,"domain":false,"values":[460,470,480,490,510,520,530,540,560],"tickSize":6,"offset":-42.7}},
  "y":{"field":"v","type":"quantitative","axis":null}}},
 {"data":{"name":"notes"},"transform":[{"filter":"datum.p == 'B2' && datum.k == 'n'"}],"mark":{"type":"text","fontSize":16,"align":"left","baseline":"middle","font":"Liberation Sans"},"encoding":{"x":{"field":"w","type":"quantitative","axis":null},"y":{"field":"v","type":"quantitative","axis":null},"text":{"field":"t"},"color":{"field":"s","type":"nominal","scale":{"domain":["abs","Venus exc","FP exc","Venus em","FP em","note"],"range":["#1a44f0","#000000","#ff0000","#1c9a1c","#d01cd0","#000000"]},"legend":null}}}
]},
{"width":330,"height":300,"resolve":{"axis":{"x":"independent","y":"independent"}},"layer":[
 {"data":{"name":"B3"},"mark":{"type":"line","strokeWidth":1.7},"encoding":{
  "x":{"field":"w","type":"quantitative","scale":{"domain":[450,620],"range":[71,273.1],"nice":false,"zero":false},"axis":{"orient":"bottom","title":"Wavelength, nm","values":[450,500,550,600],"tickSize":10,"labelPadding":8,"titlePadding":5,"offset":-42.7}},
  "y":{"field":"v","type":"quantitative","scale":{"domain":[0,360],"range":[254.3,55.1],"nice":false,"zero":false},"axis":{"orient":"left","title":"Normalizedexcitation, au","values":[0,100,200,300],"tickSize":10,"labelPadding":2,"titlePadding":8,"offset":-69.3}},
  "color":{"field":"s","type":"nominal","scale":{"domain":["abs","Venus exc","FP exc","Venus em","FP em","note"],"range":["#1a44f0","#000000","#ff0000","#1c9a1c","#d01cd0","#000000"]},"legend":null},
  "strokeDash":{"field":"m","type":"nominal","scale":{"domain":["+","-"],"range":[[1,0],[7,4.5]]},"legend":null}}},
 {"data":{"name":"B3"},"mark":{"type":"point","opacity":0},"encoding":{
  "x":{"field":"w","type":"quantitative","axis":{"orient":"bottom","title":null,"labels":false,"domain":false,"values":[460,470,480,490,510,520,530,540,560,570,580,590,610,620],"tickSize":6,"offset":-42.7}},
  "y":{"field":"v","type":"quantitative","axis":null}}},
 {"data":{"name":"notes"},"transform":[{"filter":"datum.p == 'B3' && datum.k == 'n'"}],"mark":{"type":"text","fontSize":16,"align":"left","baseline":"middle","font":"Liberation Sans"},"encoding":{"x":{"field":"w","type":"quantitative","axis":null},"y":{"field":"v","type":"quantitative","axis":null},"text":{"field":"t"},"color":{"field":"s","type":"nominal","scale":{"domain":["abs","Venus exc","FP exc","Venus em","FP em","note"],"range":["#1a44f0","#000000","#ff0000","#1c9a1c","#d01cd0","#000000"]},"legend":null}}},
 {"data":{"name":"notes"},"transform":[{"filter":"datum.p == 'B3' && datum.k == 'r'"}],"mark":{"type":"text","fontSize":16,"align":"right","baseline":"middle","font":"Liberation Sans"},"encoding":{"x":{"field":"w","type":"quantitative","axis":null},"y":{"field":"v","type":"quantitative","axis":null},"text":{"field":"t"}}}
]},
{"width":330,"height":300,"resolve":{"axis":{"x":"independent","y":"independent"}},"layer":[
 {"data":{"name":"B4"},"mark":{"type":"line","strokeWidth":1.7},"encoding":{
  "x":{"field":"w","type":"quantitative","scale":{"domain":[450,600],"range":[53.3,256.7],"nice":false,"zero":false},"axis":{"orient":"bottom","title":"Wavelength, nm","values":[450,500,550,600],"tickSize":10,"labelPadding":8,"titlePadding":5,"offset":-42.7}},
  "y":{"field":"v","type":"quantitative","scale":{"domain":[0,360],"range":[254.3,55.1],"nice":false,"zero":false},"axis":{"orient":"left","title":"Normalizedexcitation, au","values":[0,100,200,300],"tickSize":10,"labelPadding":2,"titlePadding":8,"offset":-51.7}},
  "color":{"field":"s","type":"nominal","scale":{"domain":["abs","Venus exc","FP exc","Venus em","FP em","note"],"range":["#1a44f0","#000000","#ff0000","#1c9a1c","#d01cd0","#000000"]},"legend":null},
  "strokeDash":{"field":"m","type":"nominal","scale":{"domain":["+","-"],"range":[[1,0],[7,4.5]]},"legend":null}}},
 {"data":{"name":"B4"},"mark":{"type":"point","opacity":0},"encoding":{
  "x":{"field":"w","type":"quantitative","axis":{"orient":"bottom","title":null,"labels":false,"domain":false,"values":[460,470,480,490,510,520,530,540,560,570,580,590],"tickSize":6,"offset":-42.7}},
  "y":{"field":"v","type":"quantitative","axis":null}}},
 {"data":{"name":"notes"},"transform":[{"filter":"datum.p == 'B4' && datum.k == 'n'"}],"mark":{"type":"text","fontSize":16,"align":"left","baseline":"middle","font":"Liberation Sans"},"encoding":{"x":{"field":"w","type":"quantitative","axis":null},"y":{"field":"v","type":"quantitative","axis":null},"text":{"field":"t"},"color":{"field":"s","type":"nominal","scale":{"domain":["abs","Venus exc","FP exc","Venus em","FP em","note"],"range":["#1a44f0","#000000","#ff0000","#1c9a1c","#d01cd0","#000000"]},"legend":null}}}
]},
{"width":330,"height":300,"resolve":{"axis":{"x":"independent","y":"independent"}},"layer":[
 {"data":{"name":"C1"},"mark":{"type":"line","strokeWidth":1.7},"encoding":{
  "x":{"field":"w","type":"quantitative","scale":{"domain":[525,600],"range":[83.6,287.3],"nice":false,"zero":false},"axis":{"orient":"bottom","title":"Wavelength, nm","values":[540,560,580,600],"tickSize":10,"labelPadding":6,"titlePadding":4,"offset":-41.3}},
  "y":{"field":"v","type":"quantitative","scale":{"domain":[2.5,47.3],"range":[255.8,61.7],"nice":false,"zero":false},"axis":{"orient":"left","title":"Fluorescence intensity, au","values":[10,20,30,40],"tickSize":10,"labelPadding":7,"titlePadding":6,"offset":-81.7}},
  "color":{"field":"s","type":"nominal","scale":{"domain":["abs","Venus exc","FP exc","Venus em","FP em","note"],"range":["#1a44f0","#000000","#ff0000","#1c9a1c","#d01cd0","#000000"]},"legend":null},
  "strokeDash":{"field":"m","type":"nominal","scale":{"domain":["+","-"],"range":[[1,0],[7,4.5]]},"legend":null}}},
 {"data":{"name":"C1"},"mark":{"type":"point","opacity":0},"encoding":{
  "x":{"field":"w","type":"quantitative","axis":{"orient":"bottom","title":null,"labels":false,"domain":false,"values":[530,550,570,590],"tickSize":6,"offset":-41.3}},
  "y":{"field":"v","type":"quantitative","axis":null}}},
 {"data":{"name":"notes"},"transform":[{"filter":"datum.p == 'C1' && datum.k == 'n'"}],"mark":{"type":"text","fontSize":16,"align":"left","baseline":"middle","font":"Liberation Sans"},"encoding":{"x":{"field":"w","type":"quantitative","axis":null},"y":{"field":"v","type":"quantitative","axis":null},"text":{"field":"t"},"color":{"field":"s","type":"nominal","scale":{"domain":["abs","Venus exc","FP exc","Venus em","FP em","note"],"range":["#1a44f0","#000000","#ff0000","#1c9a1c","#d01cd0","#000000"]},"legend":null}}},
 {"data":{"name":"notes"},"transform":[{"filter":"datum.p == 'C1' && datum.k == 'g'"}],"mark":{"type":"text","fontSize":24,"align":"center","baseline":"middle","font":"Liberation Sans"},"encoding":{"x":{"field":"w","type":"quantitative","axis":null},"y":{"field":"v","type":"quantitative","axis":null},"text":{"field":"t"}}}
]},
{"width":330,"height":300,"resolve":{"axis":{"x":"independent","y":"independent"}},"layer":[
 {"data":{"name":"C2"},"mark":{"type":"line","strokeWidth":1.7},"encoding":{
  "x":{"field":"w","type":"quantitative","scale":{"domain":[525,600],"range":[80.7,287.3],"nice":false,"zero":false},"axis":{"orient":"bottom","title":"Wavelength, nm","values":[540,560,580,600],"tickSize":10,"labelPadding":6,"titlePadding":4,"offset":-41}},
  "y":{"field":"v","type":"quantitative","scale":{"domain":[7,114.6],"range":[257.3,61.8],"nice":false,"zero":false},"axis":{"orient":"left","title":"Fluorescence intensity, au","values":[20,60,100],"tickSize":10,"labelPadding":7,"titlePadding":6,"offset":-77.3}},
  "color":{"field":"s","type":"nominal","scale":{"domain":["abs","Venus exc","FP exc","Venus em","FP em","note"],"range":["#1a44f0","#000000","#ff0000","#1c9a1c","#d01cd0","#000000"]},"legend":null},
  "strokeDash":{"field":"m","type":"nominal","scale":{"domain":["+","-"],"range":[[1,0],[7,4.5]]},"legend":null}}},
 {"data":{"name":"C2"},"mark":{"type":"point","opacity":0},"encoding":{
  "x":{"field":"w","type":"quantitative","axis":{"orient":"bottom","title":null,"labels":false,"domain":false,"values":[530,550,570,590],"tickSize":6,"offset":-41}},
  "y":{"field":"v","type":"quantitative","axis":{"orient":"left","title":null,"labels":false,"domain":false,"values":[40,80],"tickSize":6,"offset":-77.3}}}},
 {"data":{"name":"notes"},"transform":[{"filter":"datum.p == 'C2' && datum.k == 'n'"}],"mark":{"type":"text","fontSize":16,"align":"left","baseline":"middle","font":"Liberation Sans"},"encoding":{"x":{"field":"w","type":"quantitative","axis":null},"y":{"field":"v","type":"quantitative","axis":null},"text":{"field":"t"},"color":{"field":"s","type":"nominal","scale":{"domain":["abs","Venus exc","FP exc","Venus em","FP em","note"],"range":["#1a44f0","#000000","#ff0000","#1c9a1c","#d01cd0","#000000"]},"legend":null}}}
]},
{"width":330,"height":300,"resolve":{"axis":{"x":"independent","y":"independent"}},"layer":[
 {"data":{"name":"C3"},"mark":{"type":"line","strokeWidth":1.7},"encoding":{
  "x":{"field":"w","type":"quantitative","scale":{"domain":[527,650],"range":[82.2,285.2],"nice":false,"zero":false},"axis":{"orient":"bottom","title":"Wavelength, nm","values":[560,600,640],"tickSize":10,"labelPadding":6,"titlePadding":4,"offset":-40.7}},
  "y":{"field":"v","type":"quantitative","scale":{"domain":[2,70],"range":[256.9,62.3],"nice":false,"zero":false},"axis":{"orient":"left","title":"Fluorescence intensity, au","values":[10,30,50,70],"tickSize":10,"labelPadding":7,"titlePadding":6,"offset":-80}},
  "color":{"field":"s","type":"nominal","scale":{"domain":["abs","Venus exc","FP exc","Venus em","FP em","note"],"range":["#1a44f0","#000000","#ff0000","#1c9a1c","#d01cd0","#000000"]},"legend":null},
  "strokeDash":{"field":"m","type":"nominal","scale":{"domain":["+","-"],"range":[[1,0],[7,4.5]]},"legend":null}}},
 {"data":{"name":"C3"},"mark":{"type":"point","opacity":0},"encoding":{
  "x":{"field":"w","type":"quantitative","axis":{"orient":"bottom","title":null,"labels":false,"domain":false,"values":[530,540,550,570,580,590,610,620,630,650],"tickSize":6,"offset":-40.7}},
  "y":{"field":"v","type":"quantitative","axis":{"orient":"left","title":null,"labels":false,"domain":false,"values":[20,40,60],"tickSize":6,"offset":-80}}}},
 {"data":{"name":"notes"},"transform":[{"filter":"datum.p == 'C3' && datum.k == 'n'"}],"mark":{"type":"text","fontSize":16,"align":"left","baseline":"middle","font":"Liberation Sans"},"encoding":{"x":{"field":"w","type":"quantitative","axis":null},"y":{"field":"v","type":"quantitative","axis":null},"text":{"field":"t"},"color":{"field":"s","type":"nominal","scale":{"domain":["abs","Venus exc","FP exc","Venus em","FP em","note"],"range":["#1a44f0","#000000","#ff0000","#1c9a1c","#d01cd0","#000000"]},"legend":null}}}
]}
]
}
